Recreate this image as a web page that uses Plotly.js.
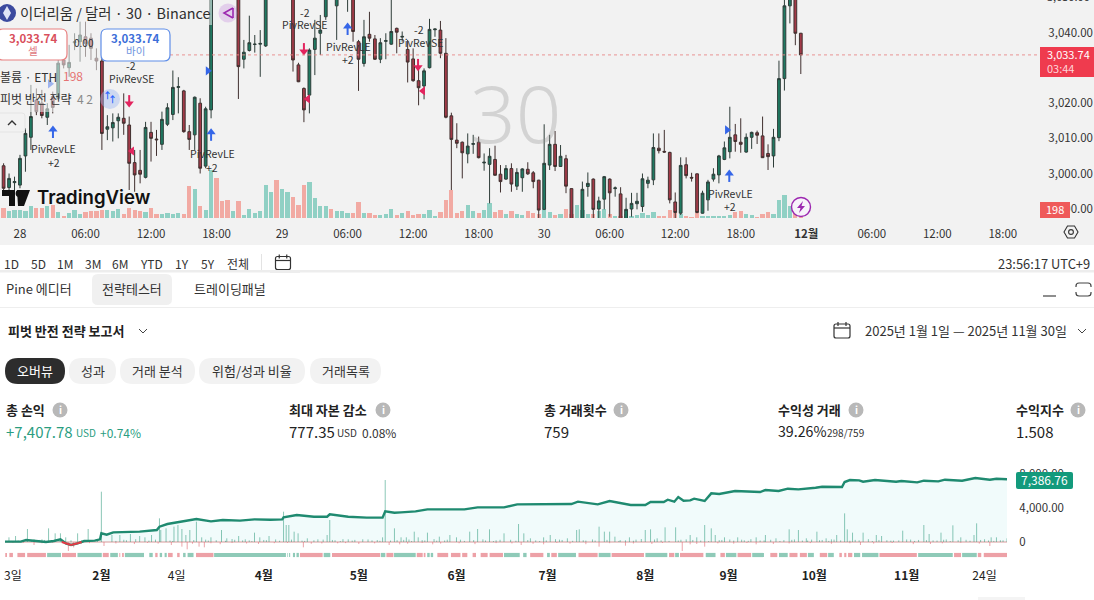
<!DOCTYPE html>
<html><head><meta charset="utf-8">
<script src="https://cdn.plot.ly/plotly-3.0.1.min.js"></script>
<style>html,body{margin:0;padding:0;background:#fff;overflow:hidden}#c{width:1094px;height:600px}</style>
</head><body><div id="c"></div>
<script>
// ---------- price chart data (30 min bars, first bar is index -3 from 28 Nov 00:00)
const firstBar=-3;
const opens=[3002.2,2996.0,2997.4,2996.7,3005.0,3010.3,3020.9,3020.0,3016.0,3021.9,3021.4,3032.3,3030.1,3037.2,3037.5,3038.9,3038.5,3032.8,3032.0,3012.6,3013.0,3015.0,3015.7,3013.8,3003.1,3000.9,2998.9,3011.7,3009.8,3008.3,3014.0,3016.8,3024.5,3023.5,3011.9,3011.0,3020.0,3002.1,3018.1,
3062,3064,3066,3058,3058,3032.5,3035.0,3036.7,3036.8,3036.3,3052,3060,3056,3060,3058,3030.9,3024.2,3022.3,3035.3,3039.9,3044.6,3054,3047.7,3052,3051,3052,3037.5,3031.3,3039.6,3038.3,3032.5,3037.6,3036.8,3041.3,3038.8,3035.3,3032.6,3026.4,3024.9,3030.1,3040.9,3040.8,3034.2,3016.4,3009.5,3008.9,3005.6,3008.3,3008.9,3003.0,3002.6,3004.0,2999.8,2998.4,3001.4,2996.4,2998.8,3001.2,3000.2,2998.1,2989.8,3002.4,3008.3,3002.0,3004.2,2995.7,2983,2983,2996.3,2998.4,2989.9,2992.7,2998.4,2995.7,2994.2,2986,2989.9,2991.4,2990.6,2997.2,2998.2,3007.2,3006.3,3006.0,2991.9,2988.7,3002.5,2998.9,2999.9,2988.7,2992.5,2998.4,2999.6,3004.0,3006.2,3011.0,3008.9,3006.1,3010.3,3011.6,3010.7,3005.7,3005.0,3010.2,3027.0,3047.7,3052,3039.9];
const highs=[3002.9,3000.0,2999.1,3005.3,3012.9,3025.2,3024.2,3023.8,3020.0,3023.3,3036.1,3036.3,3036.6,3039.9,3043.2,3043.2,3039.9,3035.6,3033.2,3016.6,3017.1,3017.1,3022.8,3016.2,3006.7,3006.7,3014.7,3014.7,3012.4,3017.6,3020.0,3029.3,3027.4,3023.8,3013.8,3021.9,3021.4,3019.0,3058,
3064,3068,3070,3066,3060,3038.0,3044.9,3039.4,3040.8,3055,3058,3062,3066,3066,3060,3031.5,3024.5,3035.6,3043.7,3045.1,3053,3056,3056,3055,3056,3054,3038.0,3043.7,3046.0,3039.4,3038.5,3039.9,3049.4,3041.5,3040.4,3038.0,3035.6,3030.9,3029.9,3044.0,3041.2,3043.4,3038.5,3017.3,3014.3,3009.1,3011.4,3011.0,3010.5,3005.7,3007.2,3007.9,3002.4,3002.4,3002.9,3001.5,3001.5,3003.2,3000.7,2998.2,3014.0,3011.0,3012.1,3008.1,3005.3,2995.7,2986.5,2997.7,3000.3,2998.6,2993.4,2999.3,2998.6,2996.3,2996.1,2993.1,2994.5,2994.5,3000.0,2999.1,3011.4,3011.4,3012.4,3006.2,2994.6,3004.6,3004.6,3000.2,3000,2995.1,2998.2,3001.5,3005.3,3009.1,3019.0,3014.1,3015.7,3011.4,3011.9,3012.2,3016.2,3008.3,3012.7,3032.1,3052,3053,3054,3040];
const lows=[2995.3,2995.3,2994.8,2995.8,3000.5,3006.7,3016.6,3015.7,3013.8,3017.1,3020.9,3029.9,3027.5,3035.1,3031.8,3033.2,3032.3,3029.4,3006.7,3009.5,3009.1,3010.0,3011.0,2995.3,2994.8,2997.2,2998.6,3003.4,3005.0,3006.7,3013.5,3015.2,3017.1,3011.6,3006.7,3006.7,3000.0,3001.5,3015.7,
3053,3058,3060,3055,3021.2,3029.9,3034.7,3034.4,3027.5,3036.0,3051,3053,3055,3055,3029.0,3026.0,3014.6,3017.1,3028.0,3033.7,3043.7,3050,3038.0,3050,3046.0,3037.5,3023.5,3030.4,3037.5,3032.3,3031.4,3032.5,3036.6,3034.2,3037.5,3025.9,3026.1,3019.4,3021.1,3029.9,3038.9,3032.8,3015.7,2995.3,3007.2,2998.6,3002.9,3005.6,3004.3,3000.8,2991.5,2999.4,2994.6,2998.2,2994.8,2995.3,2994.8,2999.6,2995.8,2986.8,2989.6,3001.0,3000.7,3001.9,2994.4,2984,2981,2982,2993.4,2986,2986.5,2989.8,2987.7,2993.4,2985,2985,2987.7,2989.8,2989.1,2995.8,2996.7,3005.7,3005.9,2991.5,2986,2988.2,2998.6,2997.7,2988.7,2988.6,2989.4,2997.7,2997.2,3003.8,3004.3,3006.2,3005.9,3005.9,3007.0,3008.4,3004.4,3001.0,3001.7,3009.2,3023.6,3042.7,3036.5,3028.3];
const closes=[2995.8,2998.6,2997.7,3004.3,3011.4,3016.2,3017.6,3016.5,3018.4,3018.8,3031.4,3030.9,3031.6,3037.5,3039.4,3037.0,3035.6,3032.0,3011.4,3013.3,3014.5,3016.0,3014.3,3002.9,2999.6,2999.8,3013.1,3010.0,3009.6,3015.4,3018.7,3024.5,3024.7,3011.9,3009.7,3021.7,3001.5,3018.4,3056,
3058,3060,3062,3062,3030.4,3034.5,3037.2,3036.8,3037.0,3052,3056,3056,3060,3063,3032.3,3026.1,3018.1,3035.1,3038.5,3040.8,3051,3051,3052,3053,3054,3040.4,3032.5,3038.9,3038.5,3032.5,3037.2,3037.8,3040.4,3040.2,3039.0,3031.7,3026.4,3024.4,3029.2,3041.0,3041.1,3034.2,3016.0,3009.7,3008.6,3005.9,3007.8,3008.5,3004.5,3003.2,3004.9,2999.5,2997.7,3001.4,2997.0,3000.3,3001.3,2999.9,2997.7,2989.6,3002.9,3008.3,3002.0,3004.9,2996.4,2985.8,2985.8,2995.5,2997.2,2989.8,2992.2,2999.1,2994.5,2995.9,2986.5,2989.8,2991.5,2992.1,2998.5,2998.1,3007.4,3006.5,3006.1,2992.5,2988.9,3002.3,2999.4,2998.7,2988.9,2994.4,2997.6,2999.8,3005.0,3007.3,3010.3,3009.1,3008.3,3010.3,3011.7,3010.9,3004.5,3004.8,3010.3,3027.0,3047.7,3051,3039.9,3033.74];
const volumes=[300,200,250,250,200,350,300,300,350,380,180,50,150,250,120,180,200,220,250,250,220,280,120,300,250,220,180,300,120,120,150,120,150,120,970,880,350,250,1450,
1200,520,550,200,500,100,280,150,220,980,780,1150,880,780,620,400,1000,1080,600,350,350,280,220,220,150,150,480,150,150,100,100,120,270,100,150,200,100,120,120,250,50,180,550,830,150,200,400,220,150,250,450,180,250,120,220,120,100,200,150,120,280,180,100,120,270,120,400,250,120,120,200,280,120,50,50,120,50,80,140,80,180,50,70,250,150,120,50,30,150,70,70,70,70,70,100,180,200,120,100,40,120,180,120,550,680,350,150,198];
const dateTickBars=[0,12,24,36,48,60,72,84,96,108,120,132,144,156,168,180];
const dateTickText=['28','06:00','12:00','18:00','29','06:00','12:00','18:00','30','06:00','12:00','18:00','<b>12월</b>','06:00','12:00','18:00'];
const priceTicks=[2990,3000,3010,3020,3030,3040];
const priceTickText=['2,990.00','3,000.00','3,010.00','3,020.00','','3,040.00'];
const lastPrice=3033.74;
const longArrowBars=[6.04,35,60,129.9], longArrowPrices=[3013.5,3012.7,3042.8,3001.0];
const shortArrowBars=[20,52,72.9], shortArrowPrices=[3018.9,3033.7,3029.2];
const entryMarkBars=[5.5,34.4,129.5], entryMarkPrices=[3025.5,3029.2,3012.4];
const exitMarkBars=[20.5,52.7,73.8], exitMarkPrices=[3006.4,3021.2,3023.5];

// ---------- strategy report data (x axis is trade number)
const equityTrades=[0,12,16,23,31,37,42,46,50,55,60,68,72,73,77,82,93,102,115,117,123,131,140,145,156,165,178,189,201,210,211,221,234,244,246,260,274,286,288,295,300,311,320,334,348,358,366,378,388,398,411,419,429,434,449,458,474,485,489,499,502,507,510,514,519,522,528,530,535,541,553,572,576,586,593,601,614,619,634,636,640,647,650,659,675,679,691,696,707,712,725,735,746,751,759];
const equityValues=[39,39,235,118,0,118,314,-157,-353,-157,118,157,314,1020,862,1137,1176,1215,1411,1803,2117,2352,2587,2705,2430,2587,2509,2666,2626,2666,2900,3175,2979,2979,3254,2979,2862,2862,3606,3450,3489,3606,3842,3842,3842,4077,4077,4077,4430,4430,4430,4469,4469,4743,4430,4822,4351,4351,4704,4704,4978,4743,5292,4861,4900,5096,4939,4822,5723,5645,5998,5880,6115,5998,6272,6194,6390,6507,6468,7056,7291,7252,7095,7291,7095,7174,7017,7213,7134,7330,7213,7526,7330,7448,7386.76];
const lossTrades=[43,46,50,55,58], lossValues=[0,-157,-353,-157,0];
const runUpTrades=[3,8,17,22,33,38,42,46,55,63,73,81,87,95,102,106,111,117,118,122,128,131,134,137,140,145,149,156,164,168,177,182,189,193,200,211,213,215,219,222,229,237,246,244,260,271,286,288,295,300,304,310,313,320,329,337,342,352,358,367,378,389,393,398,408,413,426,433,435,450,454,458,462,473,485,489,494,500,508,519,524,530,535,538,545,555,569,576,584,594,601,607,615,622,630,636,638,642,650,660,664,680,696,700,709,718,724,736,734,747,751,759,
10,26,28,50,66,90,99,125,152,160,172,185,196,205,225,241,250,256,265,278,282,292,306,316,325,333,345,362,372,383,402,417,422,440,445,466,478,482,497,512,516,527,543,549,560,565,572,580,590,598,604,611,619,626,633,644,654,668,673,686,692,703,713,728,742,754,
5,13,20,30,41,58,70,84,92,109,114,127,143,154,167,174,180,187,198,208,217,227,234,248,254,263,275,284,297,302,308,318,327,335,348,355,364,370,375,387,396,405,410,420,430,438,447,456,465,470,476,492,503,510,521,533,541,552,558,563,575,587,596,608,617,624,628,640,647,657,662,671,677,683,689,698,706,711,716,722,731,739,745,749,756];
const runUpValues=[549,706,1529,314,1607,1019,1019,549,1019,1529,5919,823,823,941,706,549,823,2783,1411,1607,1803,1999,1529,823,1411,2391,549,549,1411,431,706,314,1098,549,706,3567,1999,1999,1215,1019,431,314,2587,823,314,314,549,7291,1607,549,549,1215,549,1098,627,823,549,1215,1529,1490,1019,2117,1019,431,549,823,431,1411,1490,1803,1215,1215,627,549,1411,1490,431,1725,1725,823,549,1999,1607,823,549,549,549,823,431,1490,1411,431,1215,431,823,3371,1490,1098,1098,823,706,1333,1999,941,1098,1960,549,2195,823,549,549,431,
180,240,310,200,150,260,330,170,280,210,350,190,240,300,160,280,210,330,250,190,230,170,290,220,340,180,270,310,200,260,190,330,240,170,300,220,280,350,190,260,310,170,240,290,200,330,180,260,220,300,170,280,240,310,190,250,330,210,170,280,240,190,300,260,320,210,
120,200,150,240,110,180,260,130,210,160,280,120,230,170,140,260,190,110,220,150,280,130,200,240,110,170,300,140,210,250,120,190,160,270,130,220,180,110,260,150,230,120,190,280,140,210,170,250,120,200,150,290,130,180,240,110,220,160,270,140,190,120,250,170,210,130,280,150,200,120,240,160,190,300,130,220,170,260,110,210,150,240,180,130,200];
const drawDownTrades=[22,48,52,75,126,134,138,147,151,226,252,291,299,324,391,408,450,470,490,513,519,530,569,648,701,746,
6,14,28,36,58,64,84,98,108,116,142,156,163,172,183,192,204,214,232,240,258,268,280,305,316,330,344,356,372,384,400,418,428,440,458,476,498,524,540,552,562,582,594,610,626,640,658,672,688,710,724,738,752];
const drawDownValues=[-353,-1058,-627,-470,-353,-549,-862,-549,-627,-627,-157,-353,-274,-274,-353,-274,-549,-431,-235,-1058,-274,-549,-274,-353,-235,-470,
-120,-90,-150,-80,-200,-130,-170,-240,-110,-190,-210,-150,-260,-120,-180,-230,-140,-100,-210,-170,-130,-240,-160,-200,-110,-190,-150,-250,-130,-170,-220,-100,-190,-260,-140,-180,-120,-230,-160,-200,-110,-240,-170,-130,-210,-150,-190,-120,-250,-160,-100,-200];
const greenStripStart=[31.9,54.9,79.7,90.8,109.3,117.2,120.9,134.9,138.3,158.4,213.9,215.2,218.1,220.8,241.4,284.7,294.7,319.8,322.5,378,392.5,410.6,419,449.7,485.1,507.6,530.8,546.1,566,586.3,608.2,623.5,643.1,649.2,691.7,725];
const greenStripEnd=[42.4,73.3,85.5,105.3,111.9,119,122.5,136.8,142.8,212.8,214.4,216,219.7,222.6,246.4,288.1,311.1,321.7,324.3,389.9,395.1,412.7,432.5,458.7,501.7,510.5,538.2,554,574.9,592.9,612.7,627.8,647.8,661.6,717.9,736.1];
const redStripStart=[0.2,3.3,9.4,16.8,43.2,74.1,86.6,88.7,113.8,123.5,130.4,144.7,223.4,247.7,288.9,311.9,317.2,327.5,337.8,346.3,354.2,360.3,367.1,397.8,413.8,434.4,459.5,503,511.3,541.9,554.9,579.7,594.2,602.1,617.2,632,635.7,638.6,662.4,718.9,736.9,741.4];
const redStripEnd=[1.5,6,15.2,31,53.8,78.6,87.3,90,115.6,127,132.3,157.9,240.6,284.2,294.2,316.4,318.5,335.7,345,350.2,356.8,365.6,377.2,407.8,418,448.9,484,507,529,545.3,565.2,585,600.3,607.4,622.8,633.9,637.3,641.8,690.7,724.2,739.5,759];
const stripLevel=-1529;
const reportTicks=[6,73,130,196,268,342,411,485,548,613,683,742];
const reportTickText=['3일','<b>2월</b>','4일','<b>4월</b>','<b>5월</b>','<b>6월</b>','<b>7월</b>','<b>8월</b>','<b>9월</b>','<b>10월</b>','<b>11월</b>','24일'];
const equityTicks=[0,4000,8000], equityTickText=['0','4,000.00','8,000.00'];

// ---------- helpers
const W=1094,H=600,FONT='"Noto Sans CJK KR","Noto Sans",sans-serif';
const fx=x=>x/W, fy=y=>1-y/H;
const barTime=n=>Date.UTC(2025,10,28)+n*1800000;
const barX=closes.map((_,i)=>barTime(firstBar+i));
const shapes=[],ann=[];
function rect(x0,y0,x1,y1,fill,layer,lineColor,lw){
  shapes.push({type:'rect',xref:'paper',yref:'paper',x0:fx(x0),x1:fx(x1),y0:fy(y0),y1:fy(y1),fillcolor:fill,layer:layer||'below',line:{color:lineColor||'rgba(0,0,0,0)',width:lineColor?(lw||1):0}});
}
function pathOf(pts){return pts.map(s=>s[0]+(s.length>1?s.slice(1).reduce((a,v,i)=>a+(i?(i%2?' ':','):'')+(i%2?fy(v):fx(v)),''):'')).join(' ');}
function rrect(x0,y0,x1,y1,r,fill,lineColor,lw,layer){
  const p=[['M',x0+r,y0],['L',x1-r,y0],['Q',x1,y0,x1,y0+r],['L',x1,y1-r],['Q',x1,y1,x1-r,y1],['L',x0+r,y1],['Q',x0,y1,x0,y1-r],['L',x0,y0+r],['Q',x0,y0,x0+r,y0],['Z']];
  shapes.push({type:'path',xref:'paper',yref:'paper',path:pathOf(p),fillcolor:fill,layer:layer||'above',line:{color:lineColor||'rgba(0,0,0,0)',width:lineColor?(lw||1):0}});
}
function poly(pts,color,lw,fill,layer,closed){
  const p=pts.map((q,i)=>[i?'L':'M',q[0],q[1]]); if(closed)p.push(['Z']);
  shapes.push({type:'path',xref:'paper',yref:'paper',path:pathOf(p),fillcolor:fill||'rgba(0,0,0,0)',layer:layer||'above',line:{color:color||'rgba(0,0,0,0)',width:color?(lw||1):0}});
}
function circ(cx,cy,r,fill,lineColor,lw){
  shapes.push({type:'circle',xref:'paper',yref:'paper',x0:fx(cx-r),x1:fx(cx+r),y0:fy(cy-r),y1:fy(cy+r),fillcolor:fill,layer:'above',line:{color:lineColor||'rgba(0,0,0,0)',width:lineColor?(lw||1):0}});
}
function note(x,y,text,size,color,anchor,opts){
  const a=anchor||'left';
  ann.push(Object.assign({xref:'paper',yref:'paper',x:fx(a==='left'?x-1:x),y:fy(y-1),text:text,showarrow:false,xanchor:a,yanchor:'middle',borderpad:0,font:{family:FONT,size:size||12,color:color||'#2e2e2e'}},opts||{}));
}
function chevDown(cx,cy){poly([[cx-4,cy-2],[cx,cy+2],[cx+4,cy-2]],'#444',1);}
function calendar(cx,cy,w,h,color){
  rrect(cx-w/2,cy-h/2,cx+w/2,cy+h/2,2,'rgba(0,0,0,0)',color,1.2);
  poly([[cx-w/2,cy-h/2+4],[cx+w/2,cy-h/2+4]],color,1.2);
  poly([[cx-w/4,cy-h/2-2],[cx-w/4,cy-h/2+2]],color,1.2);
  poly([[cx+w/4,cy-h/2-2],[cx+w/4,cy-h/2+2]],color,1.2);
}
function info(cx,cy){circ(cx,cy,7.5,'#b8b8b8');note(cx,cy,'<b>i</b>',10,'#fff','center');}

// ---------- page background and chrome
rect(0,0,W,245,'#f2f2f2');
rect(0,270,W,272.5,'#ededed');
rect(0,307,W,308,'#eeeeee');
rect(978,597,1025,600,'#f4f4f4');

// legend veil over the candles
rect(0,0,212,25,'rgba(242,242,242,0.55)','above');
rect(0,25,100,112,'rgba(242,242,242,0.55)','above');

// watermark
note(515,112,'30',80,'rgba(150,150,150,0.33)','center',{font:{family:'"Noto Sans",sans-serif',size:80,color:'rgba(150,150,150,0.33)',weight:300}});

// last price line
shapes.push({type:'line',xref:'paper',yref:'y2',x0:fx(170),x1:fx(1038),y0:lastPrice,y1:lastPrice,layer:'above',line:{color:'#ea8a8a',width:0.9,dash:'dot'}});

// title legend
circ(7,13,9,'#3b4a9f');
poly([[7,6],[11,13],[7,20],[3,13]],null,0,'#dfe4f7','above',true);
note(20,13,'이더리움 / 달러 · 30 · Binance',14.4,'#2e2e2e');
circ(228,13,9.5,'rgba(190,120,220,0.28)');
poly([[233,8],[224,13],[233,18]],'#9c27b0',1.6);
poly([[233,8],[233,18]],'#9c27b0',1.6);
rrect(-3,29,67,60,6,'#ffffff','#e88080',1.2);
note(33,39,'<b>3,033.74</b>',11.5,'#d9505c','center');
note(33,51,'셀',10.5,'#e07a82','center');
rrect(101,29,170,61,6,'#ffffff','#5f8ee8',1.2);
note(135,39,'<b>3,033.74</b>',11.5,'#3d6fd9','center');
note(135,51,'바이',10.5,'#6d93de','center');
note(84,44,'0.00',10,'#333','center');
note(0,77,'볼륨 · ETH',12,'#333');
note(73,76,'198',12,'#e57373','center');
note(0,99,'피벗 반전 전략 <span style="fill:#8a8a8a;color:#8a8a8a"> 4 2</span>',12,'#333');
rrect(-3,113,25,132,3,'rgba(242,242,242,0.9)','#e4e4e4',1);
poly([[8,125],[12,121],[16,125]],'#333',1.4);

// highlight with mini arrows
circ(110,99,10,'rgba(160,185,240,0.45)');
note(107,96,'<b>↑</b>',9,'#2962ff','center');
note(112,101,'<b>↑</b>',9,'#2962ff','center');

// strategy signal labels
const signalText=[[53,150,'PivRevLE'],[54,163,'+2'],[212,155,'PivRevLE'],[212,168,'+2'],[131,79,'PivRevSE'],[131,66,'-2'],[305,26,'PivRevSE'],[305,13,'-2'],[348,47,'PivRevLE'],[348,61,'+2'],[420,43,'PivRevSE'],[419,30,'-2'],[730,195,'PivRevLE'],[730,208,'+2']];
signalText.forEach(s=>note(s[0],s[1],s[2],10.5,'#333','center'));

// TradingView logo
poly([[2,190],[15,190],[15,206],[9,206],[9,196],[2,196]],null,0,'#111','above',true);
poly([[17,190],[30,190],[24,206],[18,206]],null,0,'#111','above',true);
circ(19,193.5,3.4,'#111');
note(37,198,'TradingView',18.6,'#111','left',{font:{family:'Inter,"Noto Sans",sans-serif',size:18.6,color:'#111',weight:600}});

// right side badges
rect(1040,47,1094,77,'#ef3b4e','above');
note(1047,55,'3,033.74',11,'#ffffff');
note(1047,69,'03:44',11,'#ffd5da');
rect(1040,202,1070,218,'#ef5a5a','above');
note(1055,210,'198',11,'#ffffff','center');
note(1047,-3,'3,050.00',11,'#333');

// alert bolt
circ(801,207,9.5,'#f7f2fa','#9c27b0',1.4);
poly([[803,201],[797,208],[800.5,208],[799,213],[805,206],[801.5,206]],null,0,'#9c27b0','above',true);

// gear
poly([[1064,232],[1067.5,226],[1074.5,226],[1078,232],[1074.5,238],[1067.5,238]],'#333',1.1,null,'above',true);
circ(1071,232,2.4,'rgba(0,0,0,0)','#333',1.1);

// toolbar
[['1D',11],['5D',38],['1M',65],['3M',93],['6M',120],['YTD',151],['1Y',182],['5Y',208],['전체',238]].forEach(t=>note(t[1],264,t[0],12,'#333','center'));
rect(261,254,262,270,'#e3e3e3','above');
calendar(283,263,15,13,'#333');
rect(270,271,300,273,'#ededed','above');
note(1091,264,'23:56:17 UTC+9',12.9,'#333','right');

// tabs
note(6,289,'Pine 에디터',13,'#333');
rrect(92,274,172,305,6,'#f0f0f0');
note(132,289,'전략테스터',13,'#333','center');
note(230,289,'트레이딩패널',13,'#333','center');
poly([[1043,296],[1056,296]],'#444',1.2);
rrect(1076,283,1091,296,3,'rgba(0,0,0,0)','#444',1.2);
rect(1072,287,1095,292,'#ffffff','above');

// report heading
note(8,331,'<b>피벗 반전 전략 보고서</b>',13,'#222');
chevDown(143,331);
calendar(842,331,16,14,'#333');
note(865,331,'2025년 1월 1일 — 2025년 11월 30일',13,'#333');
chevDown(1082,331);

// pills
rrect(5,358,65,384,13,'#2d2d2d');
note(35,371,'오버뷰',13,'#ffffff','center');
[[69,116,'성과'],[120,195,'거래 분석'],[199,305,'위험/성과 비율'],[310,381,'거래목록']].forEach(p=>{
  rrect(p[0],358,p[1],384,13,'#f2f2f2');
  note((p[0]+p[1])/2,371,p[2],13,'#333','center');
});

// stats
[[6,60,'총 손익'],[289,383,'최대 자본 감소'],[544,621,'총 거래횟수'],[778,856,'수익성 거래'],[1016,1078,'수익지수']].forEach(s=>{
  note(s[0],410,'<b>'+s[2]+'</b>',13,'#222');
  info(s[1],410);
});
note(6,432,'+7,407.78',15,'#2a9d7f');
note(76,433,'USD',10,'#2a9d7f');
note(100,433,'+0.74%',12,'#2a9d7f');
note(289,432,'777.35',15,'#222');
note(337,433,'USD',10,'#333');
note(362,433,'0.08%',12,'#333');
note(544,432,'759',15,'#222');
note(778,432,'39.26%',14.2,'#222');
note(827,433,'298/759',10,'#333');
note(1016,432,'1.508',15,'#222');

// equity badge
rrect(1016,472,1073,489,2,'#139a7c');
note(1044.5,480.5,'7,386.76',12,'#ffffff','center');

// ---------- traces
const isUp=closes.map((c,i)=>c>=opens[i]);
const volTrace={type:'bar',x:barX,y:volumes,width:1400000,xaxis:'x',yaxis:'y',marker:{color:isUp.map(u=>u?'#90d0c4':'#f2aaa3'),line:{width:0}},hoverinfo:'skip'};
const candle={type:'candlestick',x:barX,open:opens,high:highs,low:lows,close:closes,xaxis:'x',yaxis:'y2',
  increasing:{line:{color:'#2e3d39',width:1},fillcolor:'#1f7a62'},decreasing:{line:{color:'#40302f',width:1},fillcolor:'#a33a48'},hoverinfo:'skip'};
const entryMarks={type:'scatter',mode:'markers',x:entryMarkBars.map(barTime),y:entryMarkPrices,xaxis:'x',yaxis:'y2',marker:{symbol:'triangle-right',size:8,color:'#3566e8',line:{width:0}},hoverinfo:'skip'};
const exitMarks={type:'scatter',mode:'markers',x:exitMarkBars.map(barTime),y:exitMarkPrices,xaxis:'x',yaxis:'y2',marker:{symbol:'triangle-left',size:8,color:'#e3245e',line:{width:0}},hoverinfo:'skip'};

// signal arrows: a shaft plus a head, both on the price scale
const shaftLen=3.4, headDrop=1.0;
function arrowTraces(bars,prices,dir,color,symbol){
  const x=[],y=[];
  bars.forEach((b,i)=>{x.push(barTime(b),barTime(b),null);y.push(prices[i]-dir*shaftLen,prices[i]-dir*headDrop,null);});
  return [
    {type:'scatter',mode:'lines',x,y,xaxis:'x',yaxis:'y2',line:{color,width:2},hoverinfo:'skip'},
    {type:'scatter',mode:'markers',x:bars.map(barTime),y:prices.map(p=>p-dir*headDrop),xaxis:'x',yaxis:'y2',marker:{symbol,size:8,color,line:{width:0}},hoverinfo:'skip'}
  ];
}
const longArrows=arrowTraces(longArrowBars,longArrowPrices,1,'#3566e8','triangle-up');
const shortArrows=arrowTraces(shortArrowBars,shortArrowPrices,-1,'#e3245e','triangle-down');

function spikes(ts,vs){const x=[],y=[];ts.forEach((t,i)=>{x.push(t,t,null);y.push(0,vs[i],null);});return {x,y};}
function strips(a,b){const x=[],y=[];a.forEach((s,i)=>{x.push(s,b[i],null);y.push(stripLevel,stripLevel,null);});return {x,y};}
const equityFill={type:'scatter',mode:'lines',x:equityTrades,y:equityValues,xaxis:'x2',yaxis:'y3',fill:'tozeroy',fillcolor:'rgba(190,238,238,0.22)',line:{width:0},hoverinfo:'skip'};
const zeroLine={type:'scatter',mode:'lines',x:[0,759],y:[0,0],xaxis:'x2',yaxis:'y3',line:{color:'rgba(205,120,120,0.75)',width:1},hoverinfo:'skip'};
const s1=spikes(runUpTrades,runUpValues), s2=spikes(drawDownTrades,drawDownValues);
const runUps=Object.assign({type:'scatter',mode:'lines',xaxis:'x2',yaxis:'y3',line:{color:'rgba(40,150,120,0.6)',width:0.9},hoverinfo:'skip'},s1);
const drawDowns=Object.assign({type:'scatter',mode:'lines',xaxis:'x2',yaxis:'y3',line:{color:'rgba(225,110,120,0.7)',width:0.9},hoverinfo:'skip'},s2);
const equityLine={type:'scatter',mode:'lines',x:equityTrades,y:equityValues,xaxis:'x2',yaxis:'y3',line:{color:'#1f8a70',width:2.4},hoverinfo:'skip'};
const lossLine={type:'scatter',mode:'lines',x:lossTrades,y:lossValues,xaxis:'x2',yaxis:'y3',line:{color:'#e53945',width:2},hoverinfo:'skip'};
const gs=strips(greenStripStart,greenStripEnd), rs=strips(redStripStart,redStripEnd);
const stripG=Object.assign({type:'scatter',mode:'lines',xaxis:'x2',yaxis:'y3',line:{color:'#8fcab8',width:4.2},hoverinfo:'skip'},gs);
const stripR=Object.assign({type:'scatter',mode:'lines',xaxis:'x2',yaxis:'y3',line:{color:'#eda1a7',width:4.2},hoverinfo:'skip'},rs);

const tickFont={family:FONT,size:11.5,color:'#333'};
const clear='rgba(0,0,0,0)';
const layout={
  width:W,height:H,margin:{l:0,r:0,t:0,b:0},paper_bgcolor:'#ffffff',plot_bgcolor:clear,showlegend:false,bargap:0,boxgap:0.28,
  font:{family:FONT},
  xaxis:{type:'date',domain:[0,1038/W],range:[barTime(-3.66),barTime(186.44)],anchor:'y',showgrid:false,zeroline:false,showline:false,
    rangeslider:{visible:false},tickmode:'array',tickvals:dateTickBars.map(barTime),ticktext:dateTickText,ticks:'outside',ticklen:5,tickcolor:clear,tickfont:tickFont,fixedrange:true},
  yaxis:{domain:[1-218/H,1],range:[0,6540],visible:false,fixedrange:true},
  yaxis2:{overlaying:'y',side:'right',anchor:'x',range:[2987.34,3049.36],showgrid:false,zeroline:false,showline:false,tickmode:'array',tickvals:priceTicks,ticktext:priceTickText,ticks:'outside',ticklen:7,tickcolor:clear,tickfont:tickFont,fixedrange:true},
  xaxis2:{domain:[5/W,1007/W],range:[0,759],anchor:'y3',showgrid:false,zeroline:false,showline:false,tickmode:'array',tickvals:reportTicks,ticktext:reportTickText,ticks:'outside',ticklen:3,tickcolor:clear,tickfont:{family:FONT,size:12,color:'#222'},fixedrange:true},
  yaxis3:{domain:[1-562/H,1-470/H],range:[-2352.9,8470.6],anchor:'x2',side:'right',showgrid:false,zeroline:false,showline:false,tickmode:'array',tickvals:equityTicks,ticktext:equityTickText,ticks:'outside',ticklen:9,tickcolor:clear,tickfont:tickFont,fixedrange:true},
  shapes:shapes,annotations:ann
};
Plotly.newPlot('c',[volTrace,candle,entryMarks,exitMarks,...longArrows,...shortArrows,equityFill,zeroLine,runUps,drawDowns,stripG,stripR,equityLine,lossLine],layout,{staticPlot:true,displayModeBar:false});
</script></body></html>
